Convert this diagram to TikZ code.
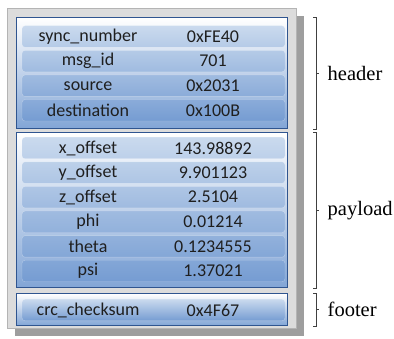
\documentclass[tikz,border=0pt]{standalone}
\usepackage{fontspec}
\newfontfamily\tagfont{Liberation Serif}
\newfontfamily\rowfont{Carlito}
\usepackage{xcolor}
\usepackage{tikz}
\usetikzlibrary{positioning,shadows}

\definecolor{frameback}{HTML}{DCDCDC}
\definecolor{frameline}{HTML}{B4B4B4}
\definecolor{panelline}{HTML}{2F5590}
\definecolor{rowlight}{HTML}{CADAEE}
\definecolor{rowdark}{HTML}{759CD2}
\definecolor{bracketgray}{HTML}{404040}

\begin{document}
\begin{tikzpicture}[
    x=1pt, y=-1pt,
    frame/.style={draw=frameline, fill=frameback, inner sep=0pt, anchor=north west,
        minimum width=289pt, minimum height=320pt,
        drop shadow={shadow xshift=8pt, shadow yshift=-8pt, fill=black!42, opacity=0.9}},
    panel/.style={draw=panelline, line width=1.3pt, inner sep=0pt, anchor=north west,
        top color=white, bottom color=rowdark!85!rowlight, minimum width=271pt},
    field/.style={rounded corners=3pt, draw=white, draw opacity=0.35, inner sep=0pt,
        minimum width=263pt, minimum height=21.5pt},
    entry/.style={font=\rowfont\fontsize{18}{20}\selectfont, text=black!88, inner sep=0pt},
    bracket/.style={draw=bracketgray, line width=0.8pt},
    part/.style={font=\tagfont\fontsize{20.5}{24}\selectfont, right=8pt, inner sep=0pt}
]
\useasboundingbox (0,0) rectangle (394,339);

\node[frame] (frame) at (7,8) {};

\node[panel, minimum height=111pt] (header)  at (16,17)  {};
\node[panel, minimum height=155pt] (payload) at (16,132) {};
\node[panel, minimum height=32pt]  (footer)  at (16,293) {};

% header fields
\foreach \lab/\val [count=\i] in {sync\_number/0xFE40, msg\_id/701, source/0x2031, destination/0x100B} {
    \pgfmathtruncatemacro{\ptop}{100*(\i-1)/4}
    \pgfmathtruncatemacro{\pbot}{100*\i/4}
    \node[field, top color=rowdark!\ptop!rowlight, bottom color=rowdark!\pbot!rowlight]
        (hd\i) at (153.5, {36.5+24.6*(\i-1)}) {};
    \node[entry] (hdl\i) at ([xshift=-65.5pt]hd\i.center) {\lab};
    \node[entry] (hdv\i) at ([xshift=59.5pt]hd\i.center) {\val};
}

% payload fields
\foreach \lab/\val [count=\i] in {x\_offset/143.98892, y\_offset/9.901123, z\_offset/2.5104,
        phi/0.01214, theta/0.1234555, psi/1.37021} {
    \pgfmathtruncatemacro{\ptop}{100*(\i-1)/6}
    \pgfmathtruncatemacro{\pbot}{100*\i/6}
    \node[field, top color=rowdark!\ptop!rowlight, bottom color=rowdark!\pbot!rowlight]
        (pl\i) at (153.5, {148+24.6*(\i-1)}) {};
    \node[entry] (pll\i) at ([xshift=-65.5pt]pl\i.center) {\lab};
    \node[entry] (plv\i) at ([xshift=59.5pt]pl\i.center) {\val};
}

% footer field
\node[field, top color=rowlight, bottom color=rowdark] (ft1) at (153.5,310) {};
\node[entry] (ftl1) at ([xshift=-65.5pt]ft1.center) {crc\_checksum};
\node[entry] (ftv1) at ([xshift=59.5pt]ft1.center) {0x4F67};

% brackets
\draw[bracket] ([xshift=25pt]header.north east) -- ++(3,0) -- ([xshift=28pt]header.south east) -- ++(-3,0);
\draw[bracket] ([xshift=28pt]header.east) -- ++(3,0) node[part] (hdtag) {header};

\draw[bracket] ([xshift=25pt]payload.north east) -- ++(3,0) -- ([xshift=28pt]payload.south east) -- ++(-3,0);
\draw[bracket] ([xshift=28pt]payload.east) -- ++(3,0) node[part] (pltag) {payload};

\draw[bracket] ([xshift=25pt]footer.north east) -- ++(3,0) -- ([xshift=28pt]footer.south east) -- ++(-3,0);
\draw[bracket] ([xshift=28pt]footer.east) -- ++(3,0) node[part] (fttag) {footer};

\end{tikzpicture}
\end{document}
